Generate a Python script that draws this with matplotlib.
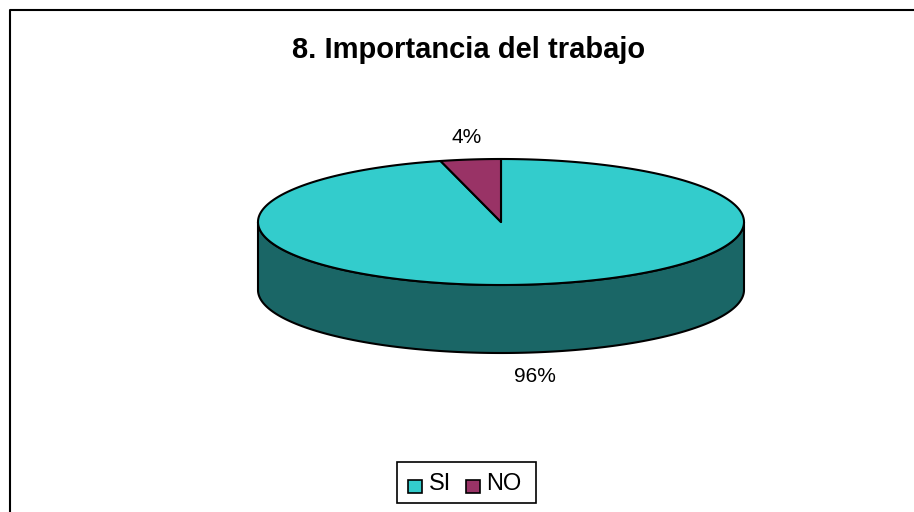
import numpy as np
import matplotlib.pyplot as plt
from matplotlib.patches import Polygon, Rectangle

plt.rcParams['font.family'] = ['Liberation Sans', 'DejaVu Sans']

title = '8. Importancia del trabajo'
labels = ['SI', 'NO']
values = [96, 4]
top_colors = ['#33CCCC', '#993366']
side_colors = ['#1A6666', '#4D1A33']

# pie geometry (pixel space)
cx, cy = 501, 222
rx, ry = 243, 63
depth = 68


def pt(theta, dy=0):
    # theta in degrees, clockwise from 12 o'clock
    t = np.radians(theta)
    return cx + rx * np.sin(t), cy - ry * np.cos(t) + dy


fig = plt.figure(figsize=(9.14, 5.12), dpi=100)
ax = fig.add_axes([0, 0, 1, 1])
ax.set_xlim(0, 914)
ax.set_ylim(512, 0)
ax.axis('off')

# chart border (only top/left visible)
ax.plot([10, 10, 914], [512, 10, 10], color='black', lw=1.5)

total = sum(values)
starts = np.cumsum([0] + values[:-1]) / total * 360
ends = np.cumsum(values) / total * 360

# side walls (front half only: 90..270)
for s, e, c in zip(starts, ends, side_colors):
    a0, a1 = max(s, 90), min(e, 270)
    if a1 <= a0:
        continue
    th = np.linspace(a0, a1, 200)
    xs, ys = pt(th)
    xb, yb = pt(th[::-1], depth)
    poly = Polygon(np.column_stack([np.r_[xs, xb], np.r_[ys, yb]]),
                   facecolor=c, edgecolor='black', lw=1.5, joinstyle='round')
    ax.add_patch(poly)

# top slices
for s, e, c in zip(starts, ends, top_colors):
    th = np.linspace(s, e, 400)
    xs, ys = pt(th)
    poly = Polygon(np.column_stack([np.r_[cx, xs], np.r_[cy, ys]]),
                   facecolor=c, edgecolor='black', lw=1.5, joinstyle='round')
    ax.add_patch(poly)

# percentage labels
for s, e, v in zip(starts, ends, values):
    mid = (s + e) / 2
    t = np.radians(mid)
    lx = cx + (rx + 30) * np.sin(t)
    ly = cy - (ry + 22) * np.cos(t)
    if np.cos(t) < 0:
        ly += depth + 2
    ax.text(lx, ly, f'{v}%', ha='center', va='center', fontsize=15)

ax.text(469, 50, title, ha='center', va='center', fontsize=21, fontweight='bold')

# legend
ax.add_patch(Rectangle((397, 462), 139, 41, facecolor='white', edgecolor='black', lw=1.2))
ax.add_patch(Rectangle((408, 480), 14, 13, facecolor=top_colors[0], edgecolor='black', lw=1.2))
ax.text(429, 484, labels[0], ha='left', va='center', fontsize=17)
ax.add_patch(Rectangle((466, 480), 14, 13, facecolor=top_colors[1], edgecolor='black', lw=1.2))
ax.text(486, 484, labels[1], ha='left', va='center', fontsize=17)

fig.savefig('out.png', dpi=100)
